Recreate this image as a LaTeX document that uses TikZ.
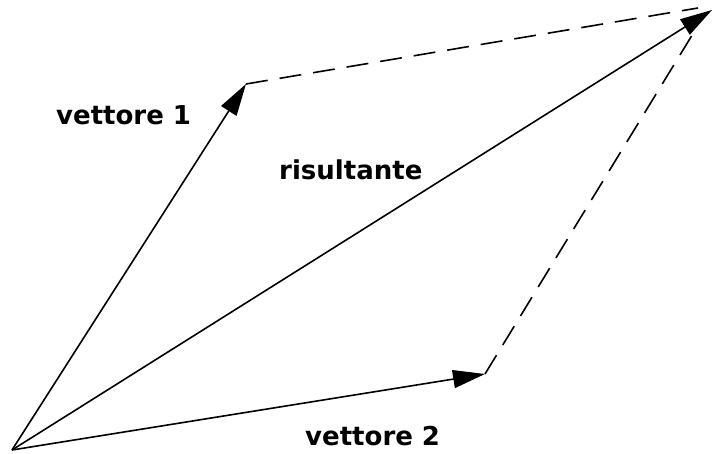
\documentclass[tikz,border=0pt]{standalone}
\usepackage{fontspec}
\setmainfont{DejaVu Sans}
\usetikzlibrary{arrows.meta}
\begin{document}
\begin{tikzpicture}[x=1pt,y=-1pt,
  vec/.style={line width=1.6pt,-{Triangle[length=32pt,width=18pt]}},
  dashline/.style={line width=1.6pt,dash pattern=on 22pt off 12pt},
  lbl/.style={font=\bfseries\fontsize{26}{30}\selectfont,inner sep=0pt}]
\useasboundingbox (0,0) rectangle (717,454);
\coordinate (O) at (12,450);
\coordinate (A) at (246,84);
\coordinate (B) at (485,374);
\coordinate (R) at (712,10);
\coordinate (Re) at (694,32);
\draw[dashline] (A) -- ([shift={(-14pt,2pt)}]R);
\draw[dashline] (B) -- (Re);
\draw[vec] (O) -- (A);
\draw[vec] (O) -- (B);
\draw[vec] (O) -- (R);
\node[lbl,anchor=west] (l1) at (56,115) {vettore 1};
\node[lbl,anchor=west] (lr) at (279,170) {risultante};
\node[lbl,anchor=west] (l2) at (305,436) {vettore 2};
\end{tikzpicture}
\end{document}
